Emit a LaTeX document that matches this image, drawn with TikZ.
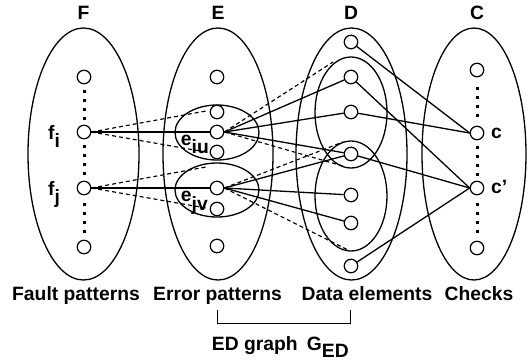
\documentclass[tikz,border=0pt]{standalone}
\usepackage{fontspec}
\setmainfont{Liberation Sans}
\newcommand\lowsub[2][8pt]{\raisebox{-#1}{#2}}
\begin{document}
\begin{tikzpicture}[x=1pt,y=-1pt,
  txt/.style={font=\fontsize{19.3}{22}\selectfont\bfseries, inner sep=0pt},
  vtx/.style={circle, draw, line width=1.25pt, fill=white, minimum size=13.5pt, inner sep=0pt},
  setline/.style={line width=1.3pt},
  link/.style={line width=1.3pt},
  alt/.style={line width=1.15pt, dash pattern=on 4pt off 3pt},
]
\useasboundingbox (0,0) rectangle (527,360);

% the four sets
\draw[setline] (83.5,154) ellipse [x radius=55.5pt, y radius=126pt];
\draw[setline] (218,154) ellipse [x radius=55pt, y radius=126pt];
\draw[setline] (351.5,154) ellipse [x radius=55.5pt, y radius=126pt];
\draw[setline] (474,154) ellipse [x radius=52pt, y radius=126pt];

% groups inside E and D
\draw[setline] (217,132.5) ellipse [x radius=42pt, y radius=27.5pt];
\draw[setline] (217,190) ellipse [x radius=42pt, y radius=27pt];
\draw[setline] (351,112.5) ellipse [x radius=36pt, y radius=55.5pt];
\draw[setline] (351,196) ellipse [x radius=36pt, y radius=55pt];

% vertical ellipsis dots
\foreach \x/\ya/\yb in {84/77/132, 84/132/188, 84/188/247, 477/70/133, 477/133/188, 477/188/248}{
  \pgfmathsetmacro\ym{(\ya+\yb)/2}
  \foreach \d in {-13.5,-4.5,4.5,13.5}
    \fill (\x-1.5,\ym+\d-1.5) rectangle (\x+1.5,\ym+\d+1.5);
}

% F
\node[vtx] (F1) at (84,77) {};
\node[vtx] (Fi) at (84,132) {};
\node[vtx] (Fj) at (84,188) {};
\node[vtx] (F4) at (84,247) {};
% E
\node[vtx] (E1) at (217,77) {};
\node[vtx] (E2) at (217,112) {};
\node[vtx] (Eiu) at (217,132) {};
\node[vtx] (E4) at (217,152) {};
\node[vtx] (Ejv) at (217,188) {};
\node[vtx] (E6) at (217,209) {};
\node[vtx] (E7) at (217,246) {};
% D
\node[vtx] (D1) at (351,42) {};
\node[vtx] (D2) at (351,77) {};
\node[vtx] (D3) at (351,112) {};
\node[vtx] (D4) at (351,154) {};
\node[vtx] (D5) at (351,195) {};
\node[vtx] (D6) at (351,223) {};
\node[vtx] (D7) at (351,266) {};
% C
\node[vtx] (C1) at (477,70) {};
\node[vtx] (Cc) at (477,133) {};
\node[vtx] (Cd) at (477,188) {};
\node[vtx] (C4) at (477,248) {};

% free ends of the dashed links
\coordinate (fa) at (206,111);
\coordinate (fb) at (206,152);
\coordinate (fc) at (206,167);
\coordinate (fd) at (206,208);
\coordinate (ea) at (333,62);
\coordinate (eb) at (343,166);
\coordinate (ec) at (343,142);
\coordinate (ed) at (348,250);

% F -> E
\draw[link] (Fi.east) -- (Eiu);
\draw[link] (Fj.east) -- (Ejv);
\draw[alt] (Fi.east) -- (fa);
\draw[alt] (Fi.east) -- (fb);
\draw[alt] (Fj.east) -- (fc);
\draw[alt] (Fj.east) -- (fd);

% E -> D
\draw[link] (Eiu.east) -- (D2);
\draw[link] (Eiu.east) -- (D3);
\draw[link] (Eiu.east) -- (D4);
\draw[link] (Ejv.east) -- (D4);
\draw[link] (Ejv.east) -- (D5);
\draw[link] (Ejv.east) -- (D6);
\draw[alt] (Eiu.east) -- (ea);
\draw[alt] (Eiu.east) -- (eb);
\draw[alt] (Ejv.east) -- (ec);
\draw[alt] (Ejv.east) -- (ed);

% D -> C
\draw[link] (D1) -- (Cc.west);
\draw[link] (D3) -- (Cc.west);
\draw[link] (D2) -- (Cd.west);
\draw[link] (D4) -- (Cd.west);
\draw[link] (D7) -- (Cd.west);

% labels
\node[txt] (tF) at (83.5,13) {F};
\node[txt] (tE) at (218,13) {E};
\node[txt] (tD) at (351,13) {D};
\node[txt] (tC) at (477,13) {C};

\node[txt, anchor=base west] (lfi) at (48,139) {f\lowsub{i}};
\node[txt, anchor=base west] (lfj) at (48,195) {f\lowsub{j}};
\node[txt, anchor=base west] (leiu) at (180.7,145) {e\lowsub{iu}};
\node[txt, anchor=base west] (lejv) at (180.7,201.7) {e\lowsub[9pt]{jv}};
\node[txt, anchor=base west] (lc) at (491,138) {c};
\node[txt, anchor=base west] (lcd) at (491,193) {c'};

\node[txt, anchor=base] (bF) at (76,300.5) {Fault patterns};
\node[txt, anchor=base] (bE) at (217.5,300.5) {Error patterns};
\node[txt, anchor=base] (bD) at (367,300.5) {Data elements};
\node[txt, anchor=base] (bC) at (479,300.5) {Checks};

% bracket joining E and D
\coordinate (ba) at (217,310);
\coordinate (bb) at (350,310);
\draw[line width=0.9pt] (ba) -- ++(0,13) -| (bb);

\node[txt, anchor=base west] (ged) at (211.7,350) {ED graph};
\node[txt, anchor=base west] (gsym) at (306.7,350) {G\lowsub[7pt]{ED}};
\end{tikzpicture}
\end{document}
